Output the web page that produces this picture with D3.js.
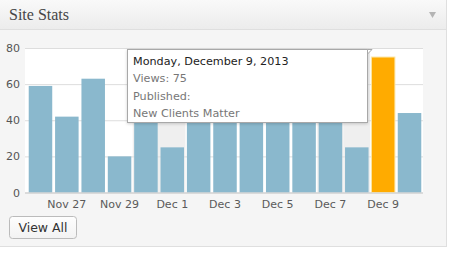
<!DOCTYPE html>
<html>
<head>
<meta charset="utf-8">
<script src="https://cdn.jsdelivr.net/npm/d3@7"></script>
<style>
  body { margin: 0; background: #fff; }
  svg { display: block; font-family: "DejaVu Sans", sans-serif; }
</style>
</head>
<body>
<div id="chart"></div>
<script>
// daily views, Nov 26 - Dec 10 2013 (bars under the tooltip are estimated)
var days = ["2013-11-26", "2013-11-27", "2013-11-28", "2013-11-29", "2013-11-30",
    "2013-12-01", "2013-12-02", "2013-12-03", "2013-12-04", "2013-12-05",
    "2013-12-06", "2013-12-07", "2013-12-08", "2013-12-09", "2013-12-10"]
var views = [59, 42, 63, 20, 45, 25, 48, 52, 46, 50, 47, 44, 25, 75, 44]
var yTicks = [0, 20, 40, 60, 80]
var xTickDays = ["2013-11-27", "2013-11-29", "2013-12-01", "2013-12-03", "2013-12-05", "2013-12-07", "2013-12-09"]
var activeDay = "2013-12-09"
var tipLines = ["Monday, December 9, 2013", "Views: 75", "Published:", "New Clients Matter"]

var W = 452, H = 256
var parse = d3.timeParse("%Y-%m-%d")
var fmt = d3.timeFormat("%b %-d")

var svg = d3.select("#chart").append("svg")
    .attr("width", W)
    .attr("height", H)

var defs = svg.append("defs")
var hg = defs.append("linearGradient").attr("id", "hdr").attr("x1", 0).attr("y1", 0).attr("x2", 0).attr("y2", 1)
hg.append("stop").attr("offset", "0%").attr("stop-color", "#f9f9f9")
hg.append("stop").attr("offset", "100%").attr("stop-color", "#ececec")
var bg = defs.append("linearGradient").attr("id", "btn").attr("x1", 0).attr("y1", 0).attr("x2", 0).attr("y2", 1)
bg.append("stop").attr("offset", "0%").attr("stop-color", "#fefefe")
bg.append("stop").attr("offset", "100%").attr("stop-color", "#f2f2f2")
var sh = defs.append("filter").attr("id", "shadow").attr("x", "-10%").attr("y", "-10%").attr("width", "130%").attr("height", "140%")
sh.append("feDropShadow").attr("dx", 0).attr("dy", 1).attr("stdDeviation", 1.5).attr("flood-color", "#000").attr("flood-opacity", 0.18)

// widget box
svg.append("rect").attr("x", 0).attr("y", 0).attr("width", 447).attr("height", 247).attr("fill", "#f5f5f5")
svg.append("rect").attr("x", 0).attr("y", 0).attr("width", 447).attr("height", 29).attr("fill", "url(#hdr)")
svg.append("line").attr("x1", 0).attr("x2", 447).attr("y1", 29.5).attr("y2", 29.5).attr("stroke", "#dfdfdf")
svg.append("line").attr("x1", 446.5).attr("x2", 446.5).attr("y1", 0).attr("y2", 247).attr("stroke", "#dfdfdf")
svg.append("line").attr("x1", 0).attr("x2", 447).attr("y1", 246.5).attr("y2", 246.5).attr("stroke", "#dfdfdf")

svg.append("text")
    .attr("x", 9)
    .attr("y", 20)
    .style("font-family", "'Liberation Serif', serif")
    .style("font-size", "16px")
    .attr("fill", "#464646")
    .text("Site Stats")

svg.append("path")
    .attr("d", "M429,12 L436,12 L432.5,18 Z")
    .attr("fill", "#b4b4b4")

// plot
var pLeft = 25, pRight = 423, pTop = 48, pBottom = 192.5

var x = d3.scaleBand()
    .domain(days)
    .range([27.3, 422.7])
    .paddingInner(0.108)
    .paddingOuter(0.054)

var y = d3.scaleLinear()
    .domain([0, 80])
    .range([pBottom, pTop])

var plot = svg.append("g")

plot.append("rect")
    .attr("x", pLeft).attr("y", pTop)
    .attr("width", pRight - pLeft).attr("height", pBottom - pTop)
    .attr("fill", "#fff")

// weekend shading
var step = x.step()
plot.selectAll("rect.wk")
    .data(days.filter(function (d) { var g = parse(d).getDay(); return g == 0 || g == 6 }))
    .enter()
    .append("rect")
    .attr("class", "wk")
    .attr("x", function (d) { return x(d) - step * x.paddingInner() / 2 })
    .attr("y", pTop)
    .attr("width", step)
    .attr("height", pBottom - pTop)
    .attr("fill", "#efefef")

var yAxis = plot.append("g")
    .attr("transform", "translate(" + pLeft + ",0)")
    .call(d3.axisLeft(y).tickValues(yTicks).tickSize(-(pRight - pLeft)).tickPadding(5))
yAxis.select(".domain").remove()
yAxis.selectAll(".tick line").attr("stroke", "#dddddd")
yAxis.selectAll(".tick text")
    .attr("fill", "#555")
    .style("font-size", "11px")
    .style("font-family", "'DejaVu Sans', sans-serif")

plot.selectAll("rect.bar")
    .data(days)
    .enter()
    .append("rect")
    .attr("class", "bar")
    .attr("x", function (d) { return x(d) })
    .attr("y", function (d, i) { return y(views[i]) })
    .attr("width", x.bandwidth())
    .attr("height", function (d, i) { return pBottom - y(views[i]) })
    .attr("fill", function (d) { return d == activeDay ? "#ffab00" : "#8ab8cd" })
    .attr("stroke", function (d) { return d == activeDay ? "#fbe6a6" : "none" })
    .attr("stroke-width", 1)

plot.append("line")
    .attr("x1", pLeft).attr("x2", pRight)
    .attr("y1", pBottom + 0.5).attr("y2", pBottom + 0.5)
    .attr("stroke", "#cccccc")

var xAxis = plot.append("g")
    .attr("transform", "translate(0," + pBottom + ")")
    .call(d3.axisBottom(x).tickValues(xTickDays).tickSize(0).tickPadding(8)
        .tickFormat(function (d) { return fmt(parse(d)) }))
xAxis.select(".domain").remove()
xAxis.selectAll(".tick text")
    .attr("fill", "#5a5a5a")
    .style("font-size", "11px")
    .style("font-family", "'DejaVu Sans', sans-serif")

// tooltip
var tip = svg.append("g").attr("transform", "translate(127,49)")
tip.append("rect")
    .attr("x", 0.5).attr("y", 0.5)
    .attr("width", 240).attr("height", 73)
    .attr("fill", "#fff")
    .attr("stroke", "#a8a8a8")
    .attr("filter", "url(#shadow)")
tip.append("path")
    .attr("d", "M240.5,0.5 L245,0.5 L240.5,5 Z")
    .attr("fill", "#fff")
    .attr("stroke", "#a8a8a8")
tip.selectAll("text")
    .data(tipLines)
    .enter()
    .append("text")
    .attr("x", 6)
    .attr("y", function (d, i) { return 16 + i * 17.3 })
    .attr("fill", function (d, i) { return i == 0 ? "#222" : "#777" })
    .style("font-size", "11.2px")
    .text(function (d) { return d })

// button
var btn = svg.append("g").attr("transform", "translate(9.5,216.5)")
btn.append("rect")
    .attr("width", 67).attr("height", 22).attr("rx", 3)
    .attr("fill", "url(#btn)")
    .attr("stroke", "#bbbbbb")
btn.append("text")
    .attr("x", 33.5).attr("y", 15.5)
    .attr("text-anchor", "middle")
    .attr("fill", "#333")
    .style("font-size", "12.5px")
    .text("View All")
</script>
</body>
</html>
